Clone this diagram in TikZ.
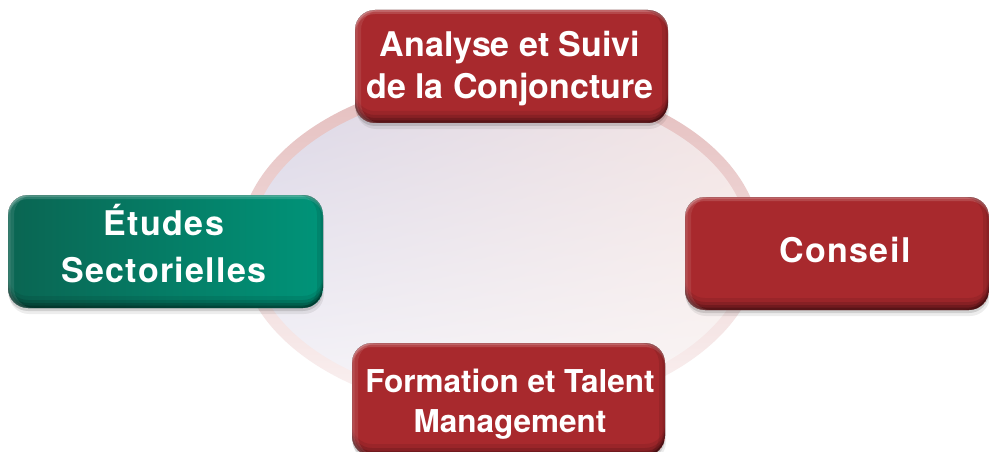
\documentclass[tikz,border=0pt]{standalone}
\usepackage{fontspec}
\setmainfont{TeX Gyre Heros}
\usetikzlibrary{shadows,shadings}
\definecolor{redM}{HTML}{A8292D}
\definecolor{greenL}{HTML}{0A6552}
\definecolor{greenR}{HTML}{009479}
\definecolor{ringT}{HTML}{E4BDBD}
\definecolor{ringM}{HTML}{EBCBCB}
\definecolor{ringB}{HTML}{FBF3F3}
\definecolor{inUL}{HTML}{DAD6E6}
\definecolor{inUR}{HTML}{F3E3E2}
\definecolor{inLL}{HTML}{F5F4F9}
\definecolor{inLR}{HTML}{FBF6F5}
\tikzset{
  bx/.style 2 args={insert path={
    ([xshift=#1,yshift=#2]path picture bounding box.south west) rectangle
    ([xshift=#1,yshift=#2]path picture bounding box.north east)}},
  rim/.style n args={4}{insert path={[rounded corners=20pt][bx={0pt}{0pt}][bx={#1}{#2}]}}
}
\begin{document}
\begin{tikzpicture}[x=1pt,y=-1pt,
  boxbase/.style={rounded corners=20pt, inner sep=0pt, minimum height=113pt,
    general shadow={fill=black, opacity=.07, shadow yshift=-6pt, shadow xshift=1pt},
    general shadow={fill=black, opacity=.12, shadow yshift=-3pt},
    path picture={
      \fill[black, opacity=.08, even odd rule, rounded corners=20pt] [bx={0pt}{0pt}] [bx={0pt}{12pt}];
      \fill[black, opacity=.12, even odd rule, rounded corners=20pt] [bx={0pt}{0pt}] [bx={0pt}{8pt}];
      \fill[black, opacity=.16, even odd rule, rounded corners=20pt] [bx={0pt}{0pt}] [bx={0pt}{5pt}];
      \fill[black, opacity=.22, even odd rule, rounded corners=20pt] [bx={0pt}{0pt}] [bx={0pt}{2.5pt}];
      \fill[white, opacity=.14, even odd rule, rounded corners=20pt] [bx={0pt}{0pt}] [bx={0pt}{-4pt}];
      \fill[white, opacity=.16, even odd rule, rounded corners=20pt] [bx={0pt}{0pt}] [bx={0pt}{-1.8pt}];
      \fill[white, opacity=.09, even odd rule, rounded corners=20pt] [bx={0pt}{0pt}] [bx={6pt}{0pt}];
      \fill[white, opacity=.09, even odd rule, rounded corners=20pt] [bx={0pt}{0pt}] [bx={2.5pt}{0pt}];
      \fill[black, opacity=.09, even odd rule, rounded corners=20pt] [bx={0pt}{0pt}] [bx={-6pt}{0pt}];
      \fill[black, opacity=.09, even odd rule, rounded corners=20pt] [bx={0pt}{0pt}] [bx={-2.5pt}{0pt}];
    }},
  redbox/.style={boxbase, fill=redM},
  greenbox/.style={boxbase, left color=greenL, right color=greenR},
  lbl/.style={text=white, inner sep=0pt, align=center, anchor=base,
    font=\bfseries\fontsize{34}{42}\selectfont},
  lblsp/.style={text=white, inner sep=0pt, align=center, anchor=base,
    font=\bfseries\fontsize{34}{47}\selectfont\addfontfeature{LetterSpace=4}},
  lblsm/.style={text=white, inner sep=0pt, align=center, anchor=base,
    font=\bfseries\fontsize{31.5}{40}\selectfont}
]
\useasboundingbox (0,0) rectangle (989,452);
\fill[white] (0,0) rectangle (989,452);
% ring and disc
\shade[top color=ringT, middle color=ringM, bottom color=ringB]
  (500,245) ellipse [x radius=261, y radius=169];
\shade[upper left=inUL, upper right=inUR, lower left=inLL, lower right=inLR]
  (500,245) ellipse [x radius=249, y radius=157];
% boxes
\node[redbox, minimum width=313pt] (analyse) at (511.5,66.5) {};
\node[greenbox, minimum width=315pt] (etudes) at (165.5,251.5) {};
\node[redbox, minimum width=304pt] (conseil) at (837,253.5) {};
\node[redbox, minimum width=313pt] (formation) at (508.5,399.5) {};
% labels
\node[lbl] (analyse-t) at (510,99) {Analyse et Suivi\\de la Conjoncture};
\node[lblsp] (etudes-t) at (164,282) {Études\\Sectorielles};
\node[lblsp] (conseil-t) at (845,262) {Conseil};
\node[lblsm] (formation-t) at (510,432) {Formation et Talent\\Management};
\end{tikzpicture}
\end{document}
